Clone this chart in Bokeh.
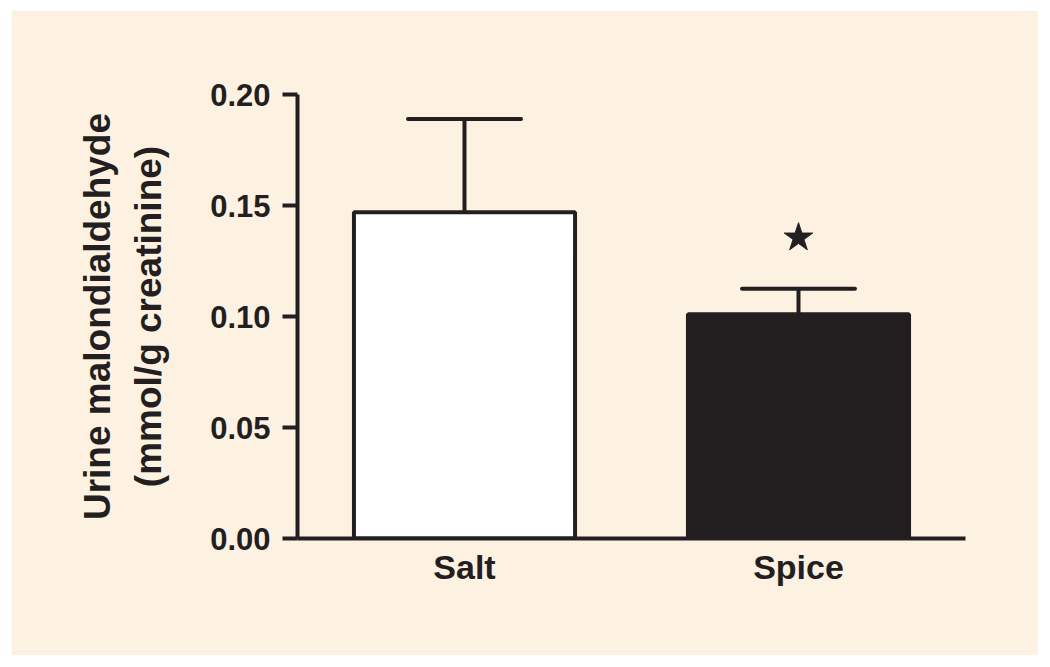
from bokeh.plotting import figure
from bokeh.models import (ColumnDataSource, FactorRange, Range1d, FixedTicker,
                          NumeralTickFormatter, Whisker, TeeHead)
from bokeh.embed import file_html
from bokeh.resources import INLINE

# ---- data ----
groups = ["Salt", "Spice"]
means = [0.147, 0.101]
errors = [0.042, 0.0115]
fills = ["#ffffff", "#231f20"]
y_ticks = [0.00, 0.05, 0.10, 0.15, 0.20]
sig_groups = ["Spice"]
sig_heights = [0.1355]
y_label_lines = ["Urine malondialdehyde", "(mmol/g creatinine)"]

BG = "#fdf1e2"
INK = "#231f20"
FONT = "Liberation Sans"

src = ColumnDataSource(dict(
    group=groups, mean=means,
    upper=[m + e for m, e in zip(means, errors)],
    fill=fills,
))

p = figure(width=1027, height=645, x_range=FactorRange(*groups, range_padding=0),
           y_range=Range1d(0, 0.2), output_backend="svg", toolbar_location=None,
           min_border_left=286, min_border_right=73, min_border_top=84,
           min_border_bottom=117)
p.styles = {"margin-left": "11px", "margin-top": "10px"}
p.background_fill_color = BG
p.border_fill_color = BG
p.outline_line_color = None
p.xgrid.grid_line_color = None
p.ygrid.grid_line_color = None

p.vbar(x="group", top="mean", bottom=0, width=0.662, source=src,
       fill_color="fill", line_color=INK, line_width=4)

w = Whisker(source=src, base="group", upper="upper", lower="mean",
            line_color=INK, line_width=4, level="glyph",
            upper_head=TeeHead(size=113, line_color=INK, line_width=4, line_cap="round"),
            lower_head=None)
p.add_layout(w)

p.scatter(x=sig_groups, y=sig_heights, marker="star", size=30,
          fill_color=INK, line_color=INK)

# axes
for ax in (p.xaxis, p.yaxis):
    ax.axis_line_width = 4
    ax.axis_line_color = INK
    ax.major_tick_line_width = 4
    ax.major_tick_line_color = INK
    ax.minor_tick_line_color = None
    ax.major_label_text_font = FONT
    ax.major_label_text_font_style = "bold"
    ax.major_label_text_color = INK

p.xaxis.major_label_text_font_size = "34px"
p.yaxis.major_label_text_font_size = "31px"
p.xaxis.major_tick_line_color = None
p.xaxis.major_label_standoff = 3

p.yaxis.ticker = FixedTicker(ticks=y_ticks)
p.yaxis.formatter = NumeralTickFormatter(format="0.00")
p.yaxis.major_tick_out = 15
p.yaxis.major_tick_in = 0
p.yaxis.major_label_standoff = 12

p.yaxis.axis_label = "\n".join(y_label_lines)
p.yaxis.axis_label_text_font = FONT
p.yaxis.axis_label_text_font_style = "bold"
p.yaxis.axis_label_text_font_size = "37px"
p.yaxis.axis_label_text_color = INK
p.yaxis.axis_label_text_align = "center"
p.yaxis.axis_label_text_line_height = 1.25
p.yaxis.axis_label_standoff = 38

open("out.html", "w").write(file_html(p, INLINE))
